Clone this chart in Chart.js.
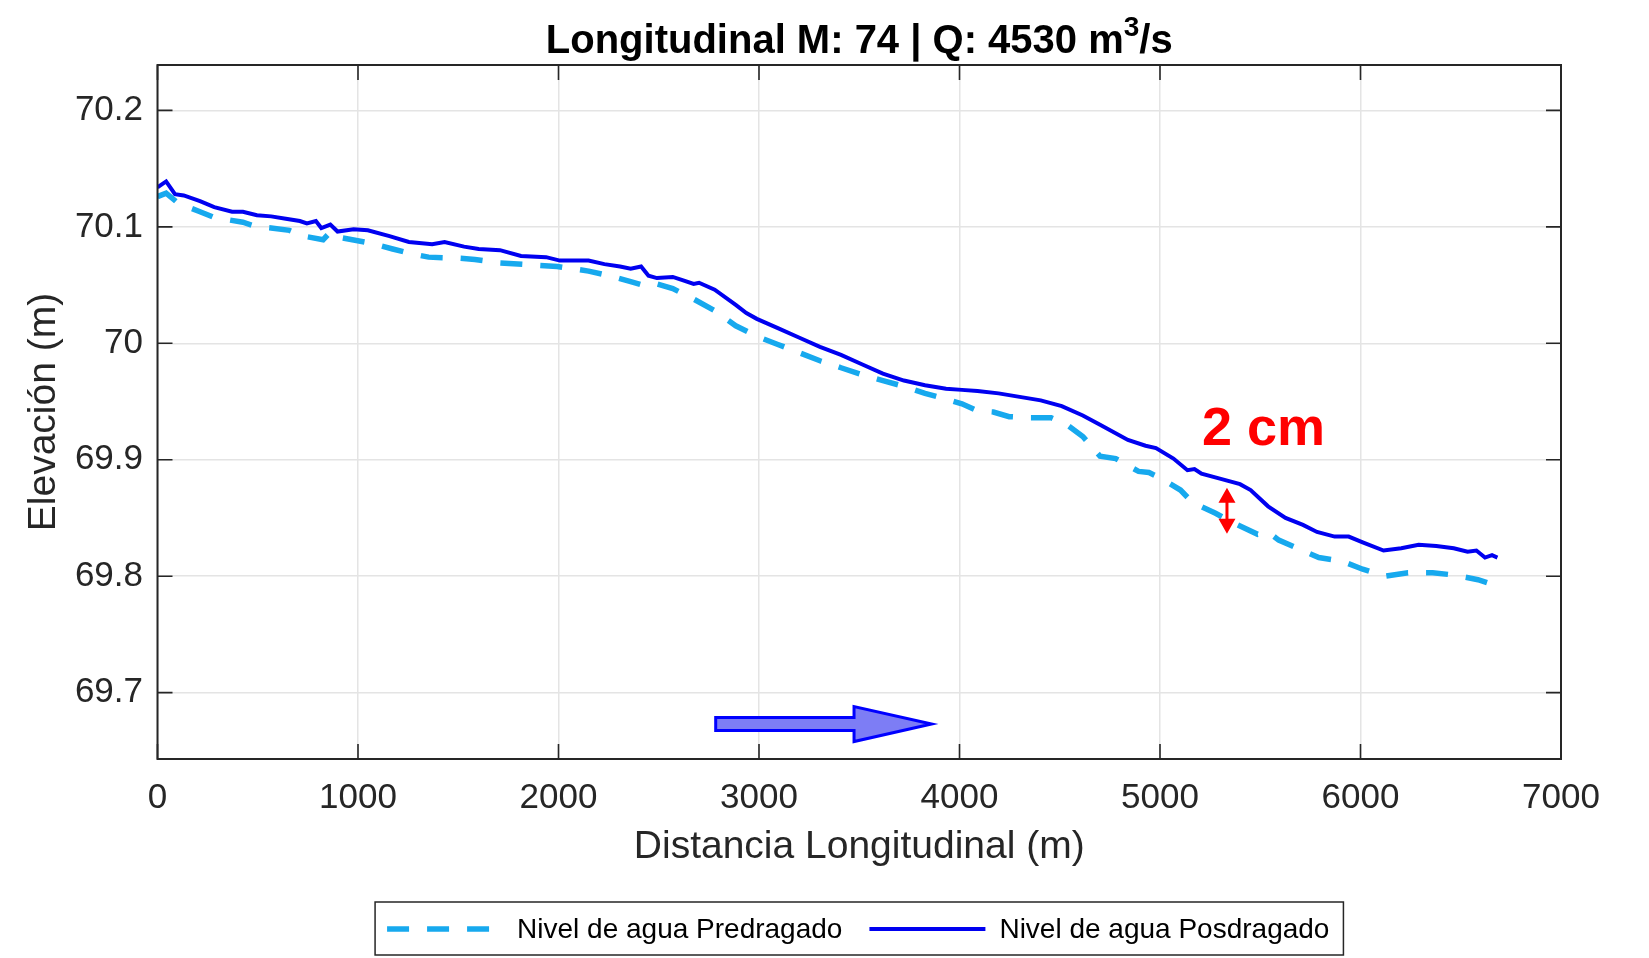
<!DOCTYPE html>
<html><head><meta charset="utf-8">
<script src="https://cdn.jsdelivr.net/npm/chart.js@4.4.1/dist/chart.umd.min.js"></script>
<style>html,body{margin:0;padding:0;background:#fff;}canvas{display:block;}</style>
</head><body>
<canvas id="c" width="1649" height="958"></canvas>
<script>
// ---- data ----
const titleParts = ['Longitudinal M: 74 | Q: 4530 m', '3', '/s'];   // main text, superscript, tail
const xAxisLabel = 'Distancia Longitudinal (m)';
const yAxisLabel = 'Elevación (m)';
const xTickValues = [0, 1000, 2000, 3000, 4000, 5000, 6000, 7000];
const yTickValues = [69.7, 69.8, 69.9, 70.0, 70.1, 70.2];
const seriesLabels = ['Nivel de agua Predragado', 'Nivel de agua Posdragado'];

const distPre = [0,43,105,212,283,426,496,567,658,730,826,862,906,1065,1173,1263,1352,1512,1583,1708,1993,2150,2255,2360,2438,2491,2570,2674,2779,2884,2989,3094,3199,3304,3409,3513,3618,3723,3828,3933,4012,4090,4169,4248,4353,4457,4536,4615,4701,4779,4893,4945,5005,5102,5164,5277,5364,5487,5539,5592,5697,5792,5906,6011,6124,6237,6360,6465,6586,6639,6683];
const elevPre = [70.126,70.129,70.120,70.113,70.108,70.104,70.100,70.099,70.097,70.092,70.089,70.0955,70.091,70.086,70.081,70.077,70.074,70.073,70.072,70.069,70.066,70.062,70.058,70.053,70.049,70.051,70.047,70.038,70.028,70.015,70.006,69.999,69.992,69.985,69.979,69.973,69.968,69.963,69.957,69.952,69.948,69.942,69.941,69.937,69.936,69.936,69.930,69.920,69.903,69.901,69.890,69.889,69.884,69.874,69.863,69.854,69.846,69.836,69.838,69.831,69.823,69.816,69.813,69.806,69.800,69.803,69.803,69.801,69.797,69.794,69.795];

const distPos = [0,43,87,131,212,283,372,426,496,567,640,710,745,790,817,862,898,978,1049,1157,1254,1370,1432,1529,1602,1708,1813,1938,2007,2150,2229,2307,2360,2412,2449,2491,2570,2622,2674,2701,2779,2884,2937,2989,3094,3199,3304,3409,3513,3618,3723,3828,3933,4012,4090,4195,4300,4405,4510,4615,4701,4840,4928,4980,5067,5137,5172,5207,5294,5399,5452,5539,5626,5713,5783,5871,5941,6011,6115,6203,6290,6378,6465,6534,6578,6621,6656,6683];
const elevPos = [70.134,70.139,70.128,70.127,70.122,70.117,70.113,70.113,70.110,70.109,70.107,70.105,70.103,70.105,70.099,70.102,70.096,70.098,70.097,70.092,70.087,70.085,70.087,70.083,70.081,70.080,70.075,70.074,70.071,70.071,70.068,70.066,70.064,70.066,70.058,70.056,70.057,70.054,70.051,70.052,70.046,70.033,70.026,70.021,70.013,70.005,69.997,69.990,69.982,69.974,69.968,69.964,69.961,69.960,69.959,69.957,69.954,69.951,69.946,69.938,69.930,69.917,69.912,69.910,69.901,69.891,69.892,69.888,69.884,69.879,69.874,69.860,69.850,69.844,69.838,69.834,69.834,69.829,69.822,69.824,69.827,69.826,69.824,69.821,69.822,69.816,69.818,69.816];

// annotations (data units)
const gapText = '2 cm';
const gapTextPos = [5209, 69.913];
const gapArrow = [5334, 69.876, 69.8365];          // x, top y, bottom y
const flowArrow = [2784, 3474, 3861, 69.673];      // start x, head base x, tip x, y

// ---- styling ----
const FONT = "'Liberation Sans', Arial, Helvetica, sans-serif";
const AX = '#262626';
const preColor = '#17a9ee';
const posColor = '#0000f0';

const boxTicksPlugin = {
  id: 'boxTicks',
  afterDatasetsDraw(chart) {
    const {ctx, chartArea: a, scales: {x, y}} = chart;
    ctx.save();
    ctx.strokeStyle = AX; ctx.lineWidth = 1.6;
    const L = 15;
    ctx.beginPath();
    xTickValues.forEach(v => {
      const px = x.getPixelForValue(v);
      ctx.moveTo(px, a.bottom); ctx.lineTo(px, a.bottom - L);
      ctx.moveTo(px, a.top); ctx.lineTo(px, a.top + L);
    });
    yTickValues.forEach(v => {
      const py = y.getPixelForValue(v);
      ctx.moveTo(a.left, py); ctx.lineTo(a.left + L, py);
      ctx.moveTo(a.right, py); ctx.lineTo(a.right - L, py);
    });
    ctx.stroke();
    ctx.lineWidth = 2;
    ctx.strokeRect(a.left, a.top, a.right - a.left, a.bottom - a.top);

    // red "2 cm" text
    ctx.fillStyle = '#ff0000';
    ctx.font = "bold 54px " + FONT;
    ctx.textBaseline = 'alphabetic'; ctx.textAlign = 'left';
    ctx.fillText(gapText, x.getPixelForValue(gapTextPos[0]), y.getPixelForValue(gapTextPos[1]));
    // red double arrow
    const gx = x.getPixelForValue(gapArrow[0]);
    const gy1 = y.getPixelForValue(gapArrow[1]);
    const gy2 = y.getPixelForValue(gapArrow[2]);
    ctx.strokeStyle = '#ff0000'; ctx.lineWidth = 3;
    ctx.beginPath(); ctx.moveTo(gx, gy1 + 12); ctx.lineTo(gx, gy2 - 12); ctx.stroke();
    ctx.beginPath();
    ctx.moveTo(gx, gy1); ctx.lineTo(gx - 8.5, gy1 + 15); ctx.lineTo(gx + 8.5, gy1 + 15); ctx.closePath();
    ctx.moveTo(gx, gy2); ctx.lineTo(gx - 8.5, gy2 - 15); ctx.lineTo(gx + 8.5, gy2 - 15); ctx.closePath();
    ctx.fill();

    // blue flow arrow
    const fx0 = x.getPixelForValue(flowArrow[0]);
    const fxb = x.getPixelForValue(flowArrow[1]);
    const fxt = x.getPixelForValue(flowArrow[2]);
    const fy = y.getPixelForValue(flowArrow[3]);
    ctx.beginPath();
    ctx.moveTo(fx0, fy - 6.5); ctx.lineTo(fxb, fy - 6.5); ctx.lineTo(fxb, fy - 17.5);
    ctx.lineTo(fxt, fy); ctx.lineTo(fxb, fy + 17.5); ctx.lineTo(fxb, fy + 6.5);
    ctx.lineTo(fx0, fy + 6.5); ctx.closePath();
    ctx.fillStyle = '#7d7df5'; ctx.fill();
    ctx.strokeStyle = '#0000ff'; ctx.lineWidth = 3; ctx.lineJoin = 'miter'; ctx.stroke();
    ctx.restore();
  },
  afterDraw(chart) {
    const {ctx} = chart;
    const a = chart.chartArea;
    const cx = (a.left + a.right) / 2;
    ctx.save();
    // title with superscript, centred over the plot area
    const mainFont = "bold 40px " + FONT, supFont = "bold 28px " + FONT;
    ctx.font = mainFont; const w0 = ctx.measureText(titleParts[0]).width, w2 = ctx.measureText(titleParts[2]).width;
    ctx.font = supFont; const w1 = ctx.measureText(titleParts[1]).width;
    let tx = cx - (w0 + w1 + w2) / 2;
    const base = 53;
    ctx.fillStyle = '#000'; ctx.textBaseline = 'alphabetic'; ctx.textAlign = 'left';
    ctx.font = mainFont; ctx.fillText(titleParts[0], tx, base); tx += w0;
    ctx.font = supFont; ctx.fillText(titleParts[1], tx, base - 17); tx += w1;
    ctx.font = mainFont; ctx.fillText(titleParts[2], tx, base);

    // legend
    const ds = chart.data.datasets;
    ctx.font = "28px " + FONT;
    const widths = ds.map(d => ctx.measureText(d.label).width);
    const padL = 12, sample = 116, gapT = 14, spacing = 27, padR = 14;
    const total = padL + ds.length * (sample + gapT) + widths.reduce((s, w) => s + w, 0) + (ds.length - 1) * spacing + padR;
    const bx = cx - total / 2, by = 902, bh = 53;
    ctx.fillStyle = '#fff'; ctx.fillRect(bx, by, total, bh);
    ctx.strokeStyle = AX; ctx.lineWidth = 1.5; ctx.strokeRect(bx, by, total, bh);
    let px = bx + padL;
    const cy = by + bh / 2 + 0.5;
    ds.forEach((d, i) => {
      ctx.beginPath();
      ctx.strokeStyle = d.borderColor; ctx.lineWidth = d.borderWidth;
      ctx.setLineDash(d.borderDash || []);
      ctx.moveTo(px, cy); ctx.lineTo(px + sample, cy); ctx.stroke();
      ctx.setLineDash([]);
      px += sample + gapT;
      ctx.fillStyle = '#000'; ctx.textBaseline = 'middle'; ctx.textAlign = 'left';
      ctx.fillText(d.label, px, cy + 1);
      px += widths[i] + spacing;
    });
    ctx.restore();
  }
};

const toPts = (xs, ys) => xs.map((v, i) => ({x: v, y: ys[i]}));

new Chart(document.getElementById('c'), {
  type: 'line',
  data: {
    datasets: [
      {label: seriesLabels[0], data: toPts(distPre, elevPre), borderColor: preColor, borderWidth: 5.5, borderDash: [22, 18], pointRadius: 0, tension: 0, fill: false, borderCapStyle: 'butt'},
      {label: seriesLabels[1], data: toPts(distPos, elevPos), borderColor: posColor, borderWidth: 4, pointRadius: 0, tension: 0, fill: false}
    ]
  },
  options: {
    responsive: false, animation: false, devicePixelRatio: 1,
    layout: {padding: {left: 0, right: 88, top: 65, bottom: 0}},
    plugins: {
      legend: {display: false},
      tooltip: {enabled: false},
      title: {display: false}
    },
    scales: {
      x: {
        type: 'linear', min: 0, max: 7000,
        afterBuildTicks: s => { s.ticks = xTickValues.map(v => ({value: v})); },
        afterFit: s => { s.height = 199; },
        ticks: {font: {family: FONT, size: 35}, color: AX, padding: 18, maxRotation: 0, autoSkip: false, callback: v => String(v)},
        grid: {color: '#e4e4e4', lineWidth: 1.5, drawTicks: false},
        border: {display: false},
        title: {display: true, text: xAxisLabel, color: AX, font: {family: FONT, size: 39}, padding: {top: 0, bottom: 87}}
      },
      y: {
        type: 'linear', min: 69.643, max: 70.239,
        afterBuildTicks: s => { s.ticks = yTickValues.map(v => ({value: v})); },
        afterFit: s => { s.width = 157.5; },
        ticks: {font: {family: FONT, size: 35}, color: AX, padding: 14.5, callback: v => String(+(+v).toFixed(1))},
        grid: {color: '#e4e4e4', lineWidth: 1.5, drawTicks: false},
        border: {display: false},
        title: {display: true, text: yAxisLabel, color: AX, font: {family: FONT, size: 39}, padding: {top: 21, bottom: 0}}
      }
    }
  },
  plugins: [boxTicksPlugin]
});
</script>
</body></html>
